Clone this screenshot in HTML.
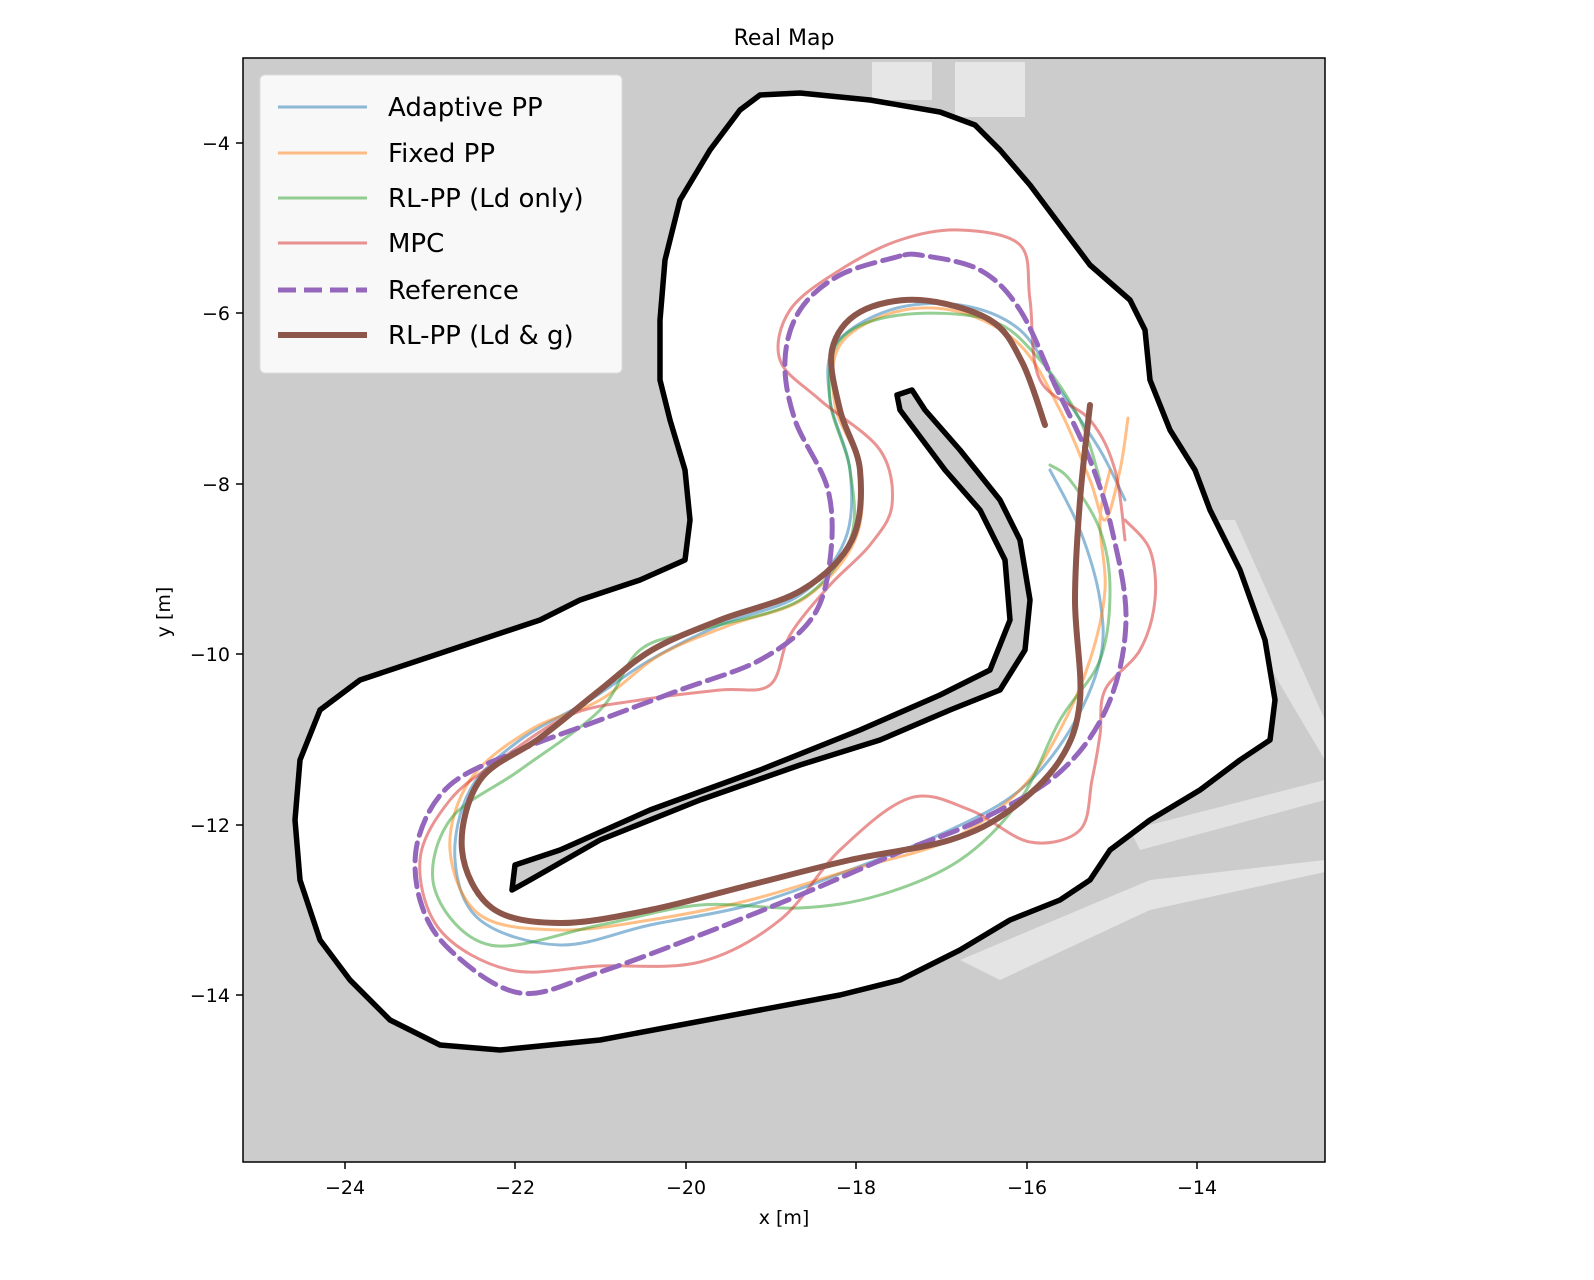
<!DOCTYPE html>
<html><head><meta charset="utf-8"><style>
html,body{margin:0;padding:0;background:#fff;}
svg text{font-family:"DejaVu Sans","Liberation Sans",sans-serif;fill:#000;}
</style></head><body>
<svg id="sv" width="1594" height="1275" viewBox="0 0 1594 1275" xmlns="http://www.w3.org/2000/svg">
<rect x="243" y="58" width="1082" height="1104" fill="#cccccc"/>
<!-- light patches -->
<rect x="872" y="62" width="60" height="38" fill="#e6e6e6"/>
<rect x="955" y="62" width="70" height="55" fill="#e6e6e6"/>
<polygon points="1215,520 1235,520 1325,720 1325,760 1230,600" fill="#e2e2e2"/>
<polygon points="1130,830 1325,780 1325,800 1140,850" fill="#e2e2e2"/>
<polygon points="960,960 1150,880 1325,860 1325,872 1150,910 1000,980" fill="#e4e4e4"/>
<!-- outer free space -->
<polygon fill="#fff" stroke="#000" stroke-width="5.5" stroke-linejoin="round" points="760,95 800,93 870,100 940,112 975,125 1000,150 1030,185 1060,225 1090,265 1130,300 1145,330 1150,380 1170,430 1195,470 1210,510 1240,570 1265,640 1275,700 1270,740 1240,760 1200,790 1150,820 1110,850 1090,880 1060,900 1010,920 960,950 900,980 840,995 760,1010 680,1025 600,1040 500,1050 440,1045 390,1020 350,980 320,940 300,880 295,820 300,760 320,710 360,680 420,660 480,640 540,620 580,600 640,580 685,560 690,520 685,470 670,420 660,380 660,320 665,260 680,200 710,150 740,110"/>
<!-- inner island -->
<polygon fill="#cccccc" stroke="#000" stroke-width="5.5" stroke-linejoin="round" points="897,395 912,390 925,410 960,450 1000,500 1020,540 1030,600 1025,650 1000,690 950,710 880,740 800,765 700,800 600,840 530,880 512,890 515,865 560,850 650,810 760,770 860,730 940,695 990,670 1010,620 1005,560 980,510 945,470 915,430 900,410"/>
<g fill="none" stroke-linejoin="round" stroke-linecap="round">
<polyline class="s" stroke="#1f77b4" stroke-opacity="0.5" stroke-width="3" points="1125,500 1100,450 1060,390 1020,330 960,305 890,310 835,345 830,400 850,470 845,540 800,595 720,625 650,660 590,700 520,740 470,790 455,860 480,920 560,945 650,925 750,905 850,870 950,830 1020,790 1070,730 1100,660 1100,600 1080,530 1050,470"/>
<polyline class="s" stroke="#ff7f0e" stroke-opacity="0.5" stroke-width="3" points="1128,418 1120,470 1105,520 1090,480 1060,410 1020,345 960,312 895,312 840,345 835,405 860,470 855,540 805,598 730,625 660,655 600,700 530,730 470,780 450,850 480,915 560,930 650,920 750,900 850,870 950,840 1020,790 1060,730 1090,660 1105,590 1100,520 1110,470"/>
<polyline class="s" stroke="#2ca02c" stroke-opacity="0.5" stroke-width="3" points="1100,480 1080,420 1040,360 990,320 900,315 840,340 830,400 850,470 850,540 800,600 700,630 640,650 600,710 520,770 450,820 435,890 490,945 600,925 700,905 800,908 880,895 960,860 1020,800 1060,720 1100,660 1110,590 1100,530 1070,480 1050,465"/>
<polyline class="s" stroke="#d62728" stroke-opacity="0.5" stroke-width="3" points="1125,540 1115,470 1090,420 1040,380 1030,300 1020,245 960,230 900,240 840,270 790,310 780,360 820,400 880,450 892,505 870,545 830,585 790,635 770,685 720,690 640,700 570,715 500,760 450,800 420,860 440,930 510,970 600,966 700,962 780,920 840,850 910,798 970,810 1030,842 1080,830 1092,780 1100,735 1105,690 1140,650 1155,600 1150,550 1125,520"/>
<polyline class="s" stroke="#9467bd" stroke-width="5" stroke-dasharray="18,8" points="900,256 840,275 800,310 785,360 795,420 828,490 830,560 812,618 760,660 680,690 600,720 520,750 450,785 418,840 420,900 450,950 520,993 600,972 700,935 800,895 900,852 980,820 1060,772 1108,705 1126,620 1112,530 1090,460 1055,385 1020,310 980,270 920,255 900,256"/>
<polyline class="s" stroke="#8c564b" stroke-width="6" points="1045,425 1022,362 990,320 920,300 860,312 832,350 840,410 860,470 852,540 802,590 720,620 652,650 600,690 540,738 480,780 462,850 492,908 560,923 650,910 750,885 850,860 950,840 1010,810 1060,760 1080,700 1075,600 1080,500 1090,405"/>
</g>
<rect x="243" y="58" width="1082" height="1104" fill="none" stroke="#000" stroke-width="1.5"/>
<rect x="260" y="75" width="362" height="298" rx="5" fill="#fff" fill-opacity="0.85" stroke="#ddd"/>
<g stroke-width="3">
<line x1="278" y1="107" x2="367" y2="107" stroke="#1f77b4" stroke-opacity="0.5"/>
<line x1="278" y1="153" x2="367" y2="153" stroke="#ff7f0e" stroke-opacity="0.5"/>
<line x1="278" y1="198" x2="367" y2="198" stroke="#2ca02c" stroke-opacity="0.5"/>
<line x1="278" y1="243" x2="367" y2="243" stroke="#d62728" stroke-opacity="0.5"/>
<line x1="278" y1="290" x2="367" y2="290" stroke="#9467bd" stroke-width="5" stroke-dasharray="18,8"/>
<line x1="278" y1="335" x2="367" y2="335" stroke="#8c564b" stroke-width="6"/>
</g>
<g font-size="26">
<text x="388" y="116">Adaptive PP</text>
<text x="388" y="162">Fixed PP</text>
<text x="388" y="207">RL-PP (Ld only)</text>
<text x="388" y="252">MPC</text>
<text x="388" y="299">Reference</text>
<text x="388" y="344">RL-PP (Ld &amp; g)</text>
</g>
<g stroke="#000" stroke-width="1.5">
<line x1="345" y1="1162" x2="345" y2="1169"/><line x1="515" y1="1162" x2="515" y2="1169"/><line x1="686" y1="1162" x2="686" y2="1169"/><line x1="856" y1="1162" x2="856" y2="1169"/><line x1="1027" y1="1162" x2="1027" y2="1169"/><line x1="1197" y1="1162" x2="1197" y2="1169"/>
<line x1="236" y1="143" x2="243" y2="143"/><line x1="236" y1="313" x2="243" y2="313"/><line x1="236" y1="484" x2="243" y2="484"/><line x1="236" y1="654" x2="243" y2="654"/><line x1="236" y1="825" x2="243" y2="825"/><line x1="236" y1="995" x2="243" y2="995"/>
</g>
<g font-size="19" text-anchor="middle">
<text x="345" y="1194">−24</text><text x="515" y="1194">−22</text><text x="686" y="1194">−20</text><text x="856" y="1194">−18</text><text x="1027" y="1194">−16</text><text x="1197" y="1194">−14</text>
</g>
<g font-size="19" text-anchor="end">
<text x="230" y="150">−4</text><text x="230" y="320">−6</text><text x="230" y="491">−8</text><text x="230" y="661">−10</text><text x="230" y="832">−12</text><text x="230" y="1002">−14</text>
</g>
<text x="784" y="45" font-size="22" text-anchor="middle">Real Map</text>
<text x="784" y="1224" font-size="19" text-anchor="middle">x [m]</text>
<text transform="translate(170,612) rotate(-90)" font-size="19" text-anchor="middle">y [m]</text>
</svg>
<script>
(function(){
var ns="http://www.w3.org/2000/svg";
var ls=document.querySelectorAll("polyline.s");
for(var i=0;i<ls.length;i++){
 var pl=ls[i];
 var nums=pl.getAttribute("points").trim().split(/[\s,]+/).map(Number);
 var p=[];for(var j=0;j<nums.length;j+=2)p.push([nums[j],nums[j+1]]);
 var d="M"+p[0][0]+","+p[0][1];
 for(var k=0;k<p.length-1;k++){
  var p0=p[k-1]||p[k],p1=p[k],p2=p[k+1],p3=p[k+2]||p2;
  var c1=[p1[0]+(p2[0]-p0[0])/6,p1[1]+(p2[1]-p0[1])/6];
  var c2=[p2[0]-(p3[0]-p1[0])/6,p2[1]-(p3[1]-p1[1])/6];
  d+=" C"+c1[0]+","+c1[1]+" "+c2[0]+","+c2[1]+" "+p2[0]+","+p2[1];
 }
 var path=document.createElementNS(ns,"path");
 for(var a=0;a<pl.attributes.length;a++){var at=pl.attributes[a];if(at.name!="points"&&at.name!="class")path.setAttribute(at.name,at.value);}
 path.setAttribute("d",d);
 pl.parentNode.replaceChild(path,pl);
}
})();
</script>
</body></html>
